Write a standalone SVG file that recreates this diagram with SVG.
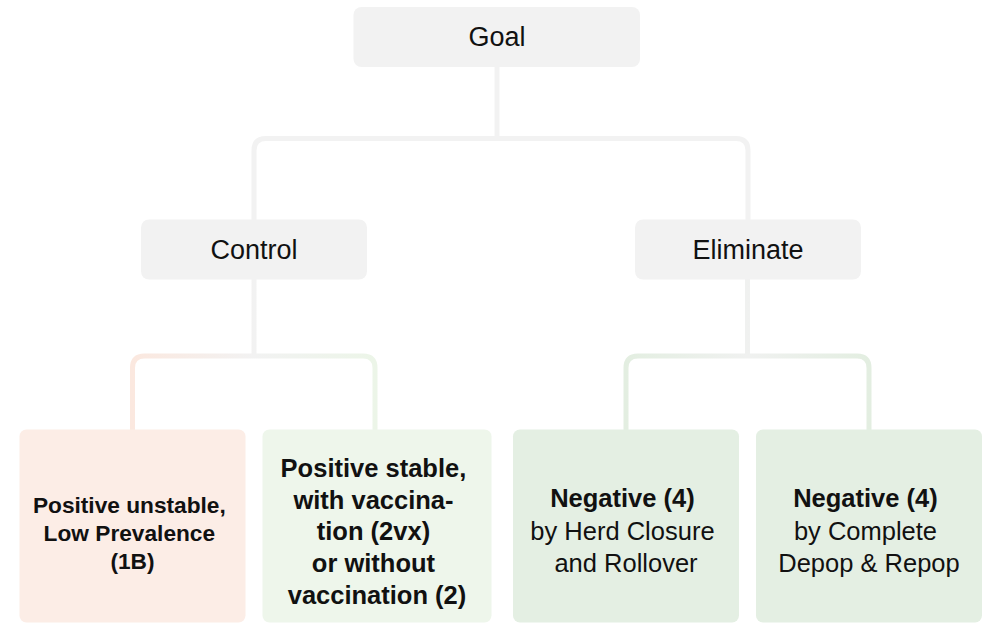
<svg xmlns="http://www.w3.org/2000/svg" width="986" height="624" viewBox="0 0 986 624">
<style>
  .t { font-family: "Liberation Sans", Arial, Helvetica, sans-serif; fill: #111; text-anchor: middle; }
  .top { font-size: 27px; }
  .lbl { font-size: 25.5px; }
  .b { font-weight: bold; }
  .gray { fill: #f2f2f2; }
  .pink { fill: #fcede6; }
  .lgreen { fill: #eef6eb; }
  .dgreen { fill: #e4efe3; }
  .conn { fill: none; stroke-width: 5; }
</style>
<defs>
  <linearGradient id="gCtrl" gradientUnits="userSpaceOnUse" x1="132.5" y1="0" x2="375" y2="0">
    <stop offset="0" stop-color="#fbe8df"/>
    <stop offset="0.5" stop-color="#f2f2f2"/>
    <stop offset="1" stop-color="#ecf5e8"/>
  </linearGradient>
  <linearGradient id="gElim" gradientUnits="userSpaceOnUse" x1="626" y1="0" x2="869" y2="0">
    <stop offset="0" stop-color="#e3eee1"/>
    <stop offset="0.5" stop-color="#f0f1f0"/>
    <stop offset="1" stop-color="#e3eee1"/>
  </linearGradient>
</defs>

<g id="connectors">
  <path class="conn" stroke="#f2f2f2" d="M497 67 V138.5"/>
  <path class="conn" stroke="#f2f2f2" d="M254 220 V150.5 Q254 138.5 266 138.5 H736 Q748 138.5 748 150.5 V220"/>
  <path class="conn" stroke="url(#gCtrl)" d="M254 279 V356"/>
  <path class="conn" stroke="url(#gCtrl)" d="M132.5 430 V368 Q132.5 356 144.5 356 H363 Q375 356 375 368 V430"/>
  <path class="conn" stroke="url(#gElim)" d="M747.5 279 V356"/>
  <path class="conn" stroke="url(#gElim)" d="M626 430 V368 Q626 356 638 356 H857 Q869 356 869 368 V430"/>
</g>

<g id="goal">
  <rect class="gray" x="353.5" y="7" width="286.5" height="60" rx="8"/>
  <text class="t top" x="497" y="46">Goal</text>
</g>

<g id="control">
  <rect class="gray" x="141" y="219.5" width="226" height="60" rx="8"/>
  <text class="t top" x="254" y="259">Control</text>
</g>

<g id="eliminate">
  <rect class="gray" x="635" y="219.5" width="226" height="60" rx="8"/>
  <text class="t top" x="748" y="259">Eliminate</text>
</g>

<g id="pos-unstable">
  <rect class="pink" x="19.5" y="429.5" width="226" height="193" rx="7"/>
  <text class="t b" style="font-size:22.7px" x="132.5" y="513">
    <tspan x="132.5" y="513">Positive unstable,</tspan>
    <tspan x="132.5" y="541">Low Prevalence</tspan>
    <tspan x="132.5" y="569">(1B)</tspan>
  </text>
</g>

<g id="pos-stable">
  <rect class="lgreen" x="262.5" y="429.5" width="229" height="193" rx="7"/>
  <text class="t b lbl" x="377" y="477">
    <tspan x="377" y="477">Positive stable,</tspan>
    <tspan x="377" y="508.5">with vaccina-</tspan>
    <tspan x="377" y="540">tion (2vx)</tspan>
    <tspan x="377" y="572">or without</tspan>
    <tspan x="377" y="604">vaccination (2)</tspan>
  </text>
</g>

<g id="neg-herd">
  <rect class="dgreen" x="513" y="429.5" width="226" height="193" rx="7"/>
  <text class="t lbl" x="626" y="507">
    <tspan class="b" x="626" y="507">Negative (4)</tspan>
    <tspan x="626" y="539.5">by Herd Closure</tspan>
    <tspan x="626" y="572">and Rollover</tspan>
  </text>
</g>

<g id="neg-depop">
  <rect class="dgreen" x="756" y="429.5" width="226" height="193" rx="7"/>
  <text class="t lbl" x="869" y="507">
    <tspan class="b" x="869" y="507">Negative (4)</tspan>
    <tspan x="869" y="539.5">by Complete</tspan>
    <tspan x="869" y="572">Depop &amp; Repop</tspan>
  </text>
</g>
</svg>
